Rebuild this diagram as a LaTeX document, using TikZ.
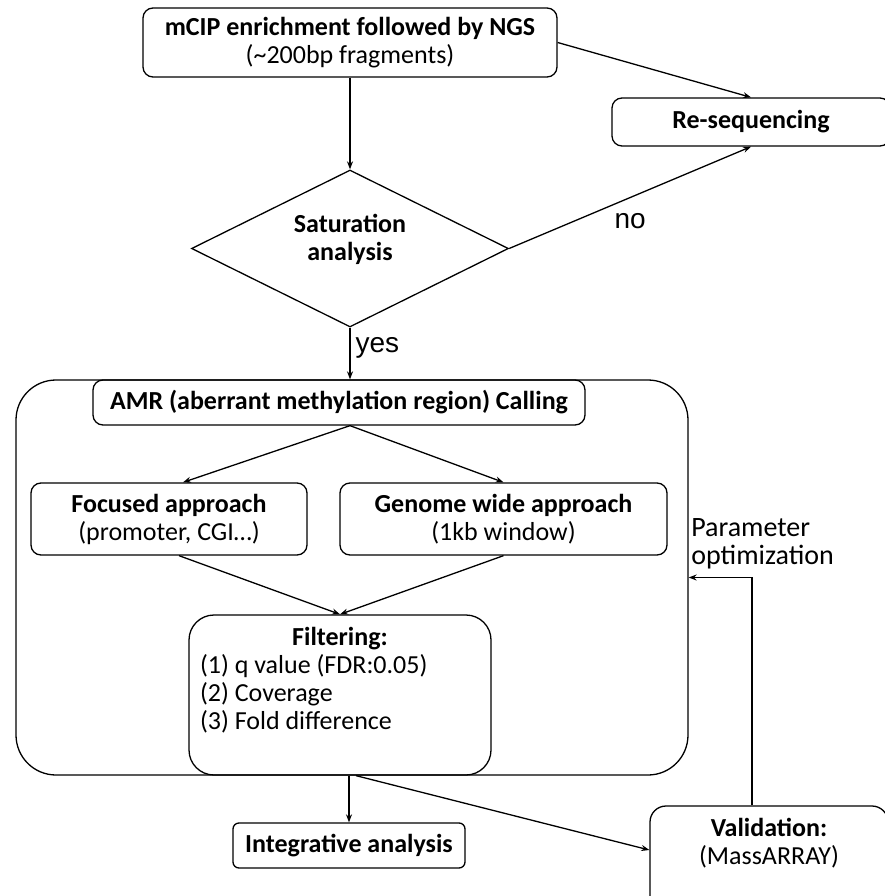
\documentclass[tikz,border=0pt]{standalone}
\usepackage{fontspec}
\setmainfont{Carlito}
\newfontfamily\answerfont{Liberation Sans}
\usetikzlibrary{shapes.geometric,arrows.meta}
\tikzset{
  box/.style={draw=black, rounded corners=10pt, align=center, inner sep=0pt},
  arr/.style={-{Stealth[length=8pt,width=6pt]}},
  answer/.style={inner sep=0pt, font=\answerfont\fontsize{28}{30}\selectfont},
}
\begin{document}
\begin{tikzpicture}[x=1pt,y=-1pt,line width=1.3pt,font=\fontsize{26}{28}\selectfont]
\useasboundingbox (0,0) rectangle (885,896);
\clip (0,0) rectangle (885,896);
% outer frame round the calling steps
\node[draw, rounded corners=40pt, minimum width=672, minimum height=395] (calling) at (352,577.5) {};
% boxes
\node[box, minimum width=414, minimum height=69] (mcip) at (350,42.5) {\textbf{mCIP enrichment followed by NGS}\\(\textasciitilde200bp fragments)};
\node[box, minimum width=278, minimum height=48] (reseq) at (751,122) {\textbf{Re-sequencing}};
\node[draw, diamond, shape aspect=2, inner sep=0pt, minimum width=317, minimum height=157, align=center, text depth=22] (sat) at (350,248.5) {\textbf{Saturation}\\\textbf{analysis}};
\node[box, minimum width=492, minimum height=45] (amr) at (339,402.5) {\textbf{AMR (aberrant methylation region) Calling}};
\node[box, minimum width=276, minimum height=72] (focus) at (169,519) {\textbf{Focused approach}\\(promoter, CGI\dots)};
\node[box, minimum width=327, minimum height=72] (genome) at (503.5,519) {\textbf{Genome wide approach}\\(1kb window)};
\node[box, rounded corners=25pt, minimum width=302, inner ysep=10, text height=104, text depth=36] (filter) at (340,695) {\textbf{Filtering:}\\\makebox[280pt][l]{(1) q value (FDR:0.05)}\\\makebox[280pt][l]{(2) Coverage}\\\makebox[280pt][l]{(3) Fold difference}};
\node[box, rounded corners=6pt, minimum width=232, minimum height=45] (integ) at (349,845.5) {\textbf{Integrative analysis}};
\node[box, rounded corners=16pt, minimum width=238, inner ysep=10, text height=48, text depth=52] (valid) at (769,866) {\textbf{Validation:}\\(MassARRAY)};
\node[anchor=south west, align=left, inner sep=2, font=\fontsize{28}{28}\selectfont] (param) at ([yshift=6pt]calling.east) {Parameter\\optimization};
% connectors
\draw[arr] (mcip.south) -- (sat.north);
\draw[arr] (mcip.east) -- (reseq.north);
\draw[arr] (sat.east) -- node[answer, below=15pt]{no} (reseq.south);
\draw[arr] (sat.south) -- node[answer, right=5pt, pos=.4]{yes} (sat.south |- amr.north);
\draw[arr] (amr.south -| sat.south) -- ([xshift=14pt]focus.north);
\draw[arr] (amr.south -| sat.south) -- (genome.north);
\draw[arr] ([xshift=10pt]focus.south) -- (filter.north);
\draw[arr] (genome.south) -- (filter.north);
\draw[arr] (integ.north |- calling.south) -- (integ.north);
\draw[arr] ([xshift=4pt]calling.south) -- ([yshift=16pt]valid.west);
\draw[arr] ([xshift=-17pt]valid.north) |- (calling.east);
\end{tikzpicture}
\end{document}
